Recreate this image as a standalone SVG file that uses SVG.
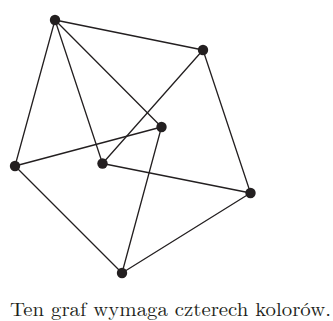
<svg xmlns="http://www.w3.org/2000/svg" width="333" height="321" viewBox="0 0 333 321">
  <style>
    .edge { stroke: #231f20; stroke-width: 1.3; fill: none; stroke-linecap: round; }
    .node circle { fill: #231f20; }
    .caption { font-family: "Latin Modern Roman", "Liberation Serif", "DejaVu Serif", serif; font-size: 19px; fill: #231f20; }
  </style>
  <rect width="333" height="321" fill="#ffffff"/>
  <g id="edges">
    <line class="edge" x1="55" y1="20" x2="203" y2="50"/>
    <line class="edge" x1="55" y1="20" x2="15" y2="166"/>
    <line class="edge" x1="55" y1="20" x2="102.5" y2="163.5"/>
    <line class="edge" x1="55" y1="20" x2="161.5" y2="127"/>
    <line class="edge" x1="203" y1="50" x2="102.5" y2="163.5"/>
    <line class="edge" x1="203" y1="50" x2="250.5" y2="193"/>
    <line class="edge" x1="161.5" y1="127" x2="15" y2="166"/>
    <line class="edge" x1="161.5" y1="127" x2="122" y2="273"/>
    <line class="edge" x1="102.5" y1="163.5" x2="250.5" y2="193"/>
    <line class="edge" x1="15" y1="166" x2="122" y2="273"/>
    <line class="edge" x1="122" y1="273" x2="250.5" y2="193"/>
  </g>
  <g id="nA" class="node"><circle cx="55" cy="20" r="5.2"/></g>
  <g id="nB" class="node"><circle cx="203" cy="50" r="5.2"/></g>
  <g id="nC" class="node"><circle cx="161.5" cy="127" r="5.2"/></g>
  <g id="nD" class="node"><circle cx="102.5" cy="163.5" r="5.2"/></g>
  <g id="nE" class="node"><circle cx="15" cy="166" r="5.2"/></g>
  <g id="nF" class="node"><circle cx="250.5" cy="193" r="5.2"/></g>
  <g id="nG" class="node"><circle cx="122" cy="273" r="5.2"/></g>
  <text class="caption" x="10" y="316" textLength="321" lengthAdjust="spacingAndGlyphs">Ten graf wymaga czterech kolorów.</text>
</svg>
